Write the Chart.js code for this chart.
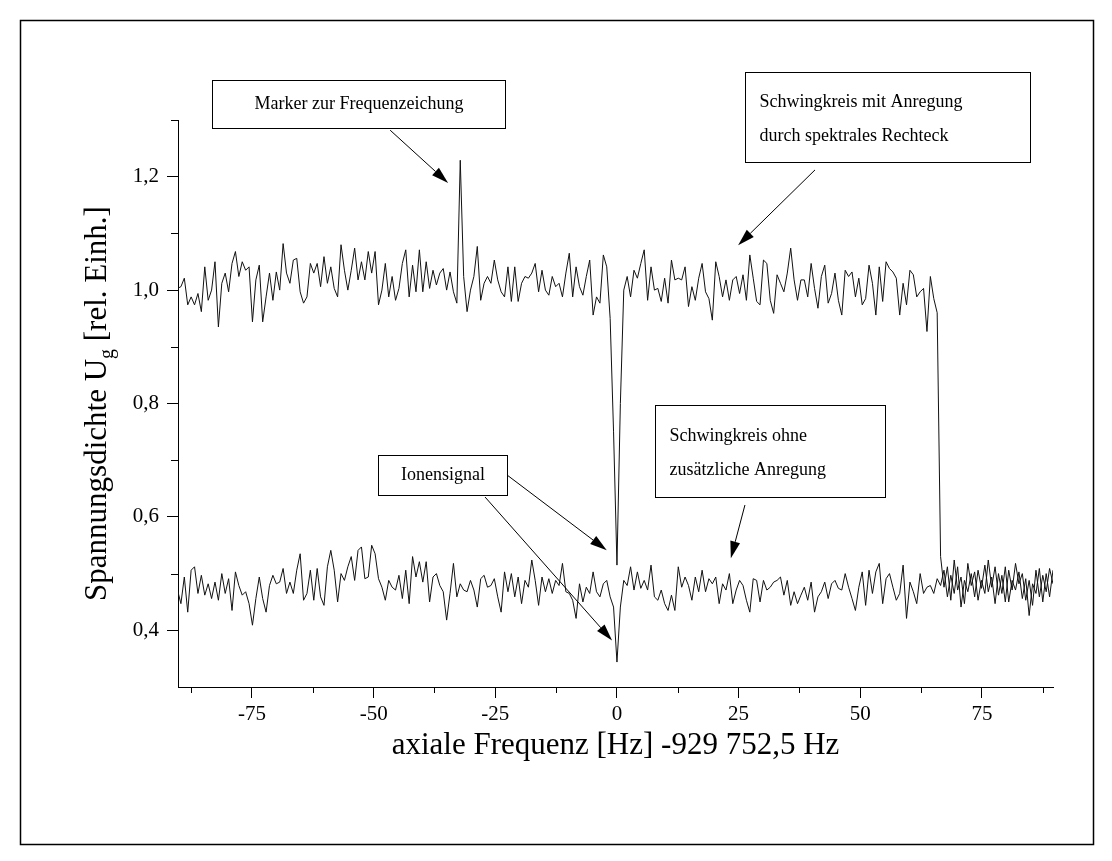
<!DOCTYPE html>
<html>
<head>
<meta charset="utf-8">
<script src="https://cdn.jsdelivr.net/npm/chart.js@4.4.1/dist/chart.umd.min.js"></script>
<style>
  body { margin: 0; background: #fff; }
  canvas { display: block; }
</style>
</head>
<body>
<canvas id="chart" width="1112" height="861"></canvas>
<script>
// ==================================================
// DATA
// ==================================================
// frequency grid of the recorded spectrum [Hz]
const freqStart = -90.3;
const freqStep = 0.7;

// circuit driven by spectral rectangle (top trace)
const mitAnregung = [
  1.003, 1.006, 1.021, 0.974, 0.988, 0.974, 0.994, 0.962, 1.041, 0.982,
  1.000, 1.050, 0.935, 1.012, 1.030, 0.997, 1.047, 1.068, 1.024, 1.050,
  1.035, 1.041, 0.944, 1.018, 1.044, 0.944, 0.988, 1.030, 0.982, 1.032,
  1.000, 1.082, 1.030, 1.012, 1.053, 1.056, 0.997, 0.977, 0.988, 1.047,
  1.030, 1.047, 1.006, 1.059, 1.012, 1.041, 1.003, 0.988, 1.080, 1.035,
  1.000, 1.035, 1.074, 1.018, 1.050, 1.018, 1.068, 1.030, 1.068, 0.974,
  1.000, 1.047, 0.988, 1.024, 0.982, 1.003, 1.047, 1.071, 0.988, 1.044,
  0.997, 1.071, 0.997, 1.050, 1.003, 1.035, 1.009, 1.030, 1.038, 1.000,
  1.032, 0.997, 0.977, 1.229, 1.024, 0.962, 1.000, 1.024, 1.077, 0.982,
  1.012, 1.024, 1.012, 1.053, 1.018, 0.997, 0.988, 1.041, 0.980, 1.041,
  0.980, 1.012, 1.024, 1.021, 1.030, 1.047, 0.997, 1.035, 1.000, 0.991,
  1.024, 1.006, 1.012, 0.988, 1.030, 1.065, 0.988, 1.041, 1.006, 0.991,
  1.024, 1.053, 0.956, 0.988, 0.977, 1.062, 1.041, 0.950, 0.750, 0.515,
  0.800, 1.000, 1.024, 0.988, 1.035, 1.021, 1.047, 1.071, 0.982, 1.041,
  1.000, 1.003, 0.980, 1.021, 0.977, 1.053, 1.018, 1.021, 1.018, 1.041,
  0.971, 1.006, 0.982, 1.021, 1.047, 0.997, 0.985, 0.947, 1.050, 1.024,
  0.988, 1.018, 0.982, 1.018, 1.024, 0.994, 1.027, 0.982, 1.062, 1.021,
  0.980, 0.974, 1.053, 1.047, 0.982, 0.959, 1.027, 1.012, 0.997, 1.030,
  1.074, 1.018, 0.982, 1.018, 1.018, 0.988, 1.047, 1.003, 0.968, 1.024,
  1.044, 0.977, 0.994, 1.030, 0.982, 0.956, 1.035, 1.024, 1.032, 0.988,
  1.021, 0.974, 0.985, 1.044, 1.012, 0.956, 1.041, 0.980, 1.050, 1.038,
  1.032, 1.021, 0.956, 1.012, 0.974, 1.035, 1.027, 0.988, 0.997, 1.003,
  0.927, 1.024, 0.985, 0.960, 0.530, 0.476, 0.512, 0.453, 0.524, 0.471,
  0.494, 0.447, 0.518, 0.479, 0.503, 0.453, 0.488, 0.465, 0.524, 0.476,
  0.512, 0.462, 0.497, 0.450, 0.506, 0.471, 0.518, 0.482, 0.500, 0.453,
  0.488, 0.444, 0.506, 0.459, 0.497, 0.468, 0.509, 0.482
];

// circuit without extra drive (bottom trace)
const ohneAnregung = [
  0.471, 0.447, 0.494, 0.432, 0.506, 0.512, 0.465, 0.497, 0.462, 0.482,
  0.456, 0.485, 0.453, 0.500, 0.465, 0.491, 0.435, 0.503, 0.479, 0.462,
  0.468, 0.447, 0.409, 0.456, 0.494, 0.456, 0.432, 0.479, 0.497, 0.482,
  0.485, 0.509, 0.465, 0.485, 0.465, 0.506, 0.535, 0.453, 0.465, 0.506,
  0.453, 0.509, 0.459, 0.444, 0.512, 0.541, 0.506, 0.450, 0.500, 0.488,
  0.512, 0.530, 0.488, 0.541, 0.547, 0.491, 0.494, 0.550, 0.535, 0.491,
  0.476, 0.453, 0.488, 0.476, 0.471, 0.497, 0.456, 0.506, 0.447, 0.530,
  0.494, 0.521, 0.485, 0.521, 0.450, 0.494, 0.500, 0.479, 0.468, 0.418,
  0.465, 0.518, 0.459, 0.482, 0.471, 0.468, 0.488, 0.471, 0.441, 0.491,
  0.497, 0.476, 0.479, 0.491, 0.459, 0.432, 0.503, 0.468, 0.500, 0.459,
  0.494, 0.447, 0.488, 0.476, 0.524, 0.488, 0.444, 0.494, 0.468, 0.491,
  0.465, 0.488, 0.479, 0.518, 0.468, 0.465, 0.453, 0.421, 0.482, 0.450,
  0.476, 0.465, 0.503, 0.468, 0.459, 0.482, 0.488, 0.459, 0.441, 0.344,
  0.441, 0.488, 0.479, 0.512, 0.471, 0.503, 0.474, 0.488, 0.471, 0.515,
  0.459, 0.453, 0.471, 0.447, 0.435, 0.462, 0.435, 0.512, 0.476, 0.494,
  0.479, 0.453, 0.494, 0.468, 0.506, 0.468, 0.491, 0.482, 0.494, 0.447,
  0.482, 0.471, 0.500, 0.447, 0.471, 0.488, 0.479, 0.453, 0.432, 0.491,
  0.488, 0.450, 0.488, 0.471, 0.476, 0.485, 0.488, 0.494, 0.462, 0.488,
  0.444, 0.468, 0.447, 0.462, 0.476, 0.453, 0.485, 0.432, 0.459, 0.468,
  0.485, 0.456, 0.482, 0.488, 0.474, 0.471, 0.500, 0.476, 0.456, 0.435,
  0.476, 0.503, 0.444, 0.506, 0.465, 0.503, 0.518, 0.447, 0.491, 0.500,
  0.476, 0.453, 0.465, 0.515, 0.421, 0.485, 0.468, 0.447, 0.500, 0.465,
  0.476, 0.479, 0.465, 0.491, 0.479, 0.506, 0.459, 0.497, 0.465, 0.512,
  0.441, 0.488, 0.468, 0.500, 0.459, 0.506, 0.474, 0.515, 0.468, 0.494,
  0.447, 0.500, 0.465, 0.512, 0.450, 0.488, 0.471, 0.503, 0.456, 0.491,
  0.426, 0.482, 0.465, 0.509, 0.450, 0.500, 0.459, 0.506
];

// axis ticks
const xMajorTicks = [-75, -50, -25, 0, 25, 50, 75];
const xMinorTicks = [-87.5, -62.5, -37.5, -12.5, 12.5, 37.5, 62.5, 87.5];
const yMajorTicks = [0.4, 0.6, 0.8, 1.0, 1.2];
const yMinorTicks = [0.5, 0.7, 0.9, 1.1, 1.3];

// annotations (data coordinates)
const labelBoxes = [
  { x1: -83.2, y1: 1.371, x2: -23.0, y2: 1.286, lines: ["Marker zur Frequenzeichung"], align: "center" },
  { x1: 26.3, y1: 1.385, x2: 84.9, y2: 1.226, lines: ["Schwingkreis mit Anregung", "durch spektrales Rechteck"], align: "left" },
  { x1: -49.1, y1: 0.709, x2: -22.6, y2: 0.638, lines: ["Ionensignal"], align: "center" },
  { x1: 7.8, y1: 0.797, x2: 55.1, y2: 0.635, lines: ["Schwingkreis ohne", "zusätzliche Anregung"], align: "left" },
];
const arrows = [
  { from: [-46.6, 1.282], to: [-34.7, 1.189] },
  { from: [40.7, 1.212], to: [24.9, 1.079] },
  { from: [-22.6, 0.674], to: [-2.1, 0.541] },
  { from: [-27.1, 0.635], to: [-1.0, 0.382] },
  { from: [26.3, 0.621], to: [23.4, 0.527] },
];

const xTitle = "axiale Frequenz [Hz] -929 752,5 Hz";
const SERIF = "'Liberation Serif', 'DejaVu Serif', serif";

// ==================================================
// HELPERS
// ==================================================
const toPoints = (values) =>
  values.map((v, i) => ({ x: +(freqStart + i * freqStep).toFixed(2), y: v }));

const drawArrow = (ctx, x0, y0, x1, y1) => {
  const ang = Math.atan2(y1 - y0, x1 - x0);
  const len = 17;
  const half = 5;
  const bx = x1 - len * Math.cos(ang);
  const by = y1 - len * Math.sin(ang);
  ctx.beginPath();
  ctx.moveTo(x0, y0);
  ctx.lineTo(bx, by);
  ctx.stroke();
  ctx.beginPath();
  ctx.moveTo(x1, y1);
  ctx.lineTo(bx + half * Math.sin(ang), by - half * Math.cos(ang));
  ctx.lineTo(bx - half * Math.sin(ang), by + half * Math.cos(ang));
  ctx.closePath();
  ctx.fill();
};

// ==================================================
// PLUGIN: frame, minor ticks, titles, annotations
// ==================================================
const decorPlugin = {
  id: "decor",
  beforeDraw(chart) {
    const ctx = chart.ctx;
    ctx.save();
    ctx.fillStyle = "#fff";
    ctx.fillRect(0, 0, chart.width, chart.height);
    ctx.strokeStyle = "#000";
    ctx.lineWidth = 1.5;
    ctx.strokeRect(20.5, 20.5, 1073, 824);
    ctx.restore();
  },
  afterDraw(chart) {
    const { ctx, chartArea, scales } = chart;
    const x = scales.x;
    const y = scales.y;
    ctx.save();
    ctx.strokeStyle = "#000";
    ctx.fillStyle = "#000";
    ctx.lineWidth = 1;

    // minor ticks
    xMinorTicks.forEach((v) => {
      const px = Math.round(x.getPixelForValue(v)) + 0.5;
      ctx.beginPath();
      ctx.moveTo(px, chartArea.bottom);
      ctx.lineTo(px, chartArea.bottom + 6);
      ctx.stroke();
    });
    yMinorTicks.forEach((v) => {
      const py = Math.round(y.getPixelForValue(v)) + 0.5;
      ctx.beginPath();
      ctx.moveTo(chartArea.left, py);
      ctx.lineTo(chartArea.left - 7, py);
      ctx.stroke();
    });

    // x axis title
    ctx.font = `31px ${SERIF}`;
    ctx.textAlign = "center";
    ctx.textBaseline = "middle";
    ctx.fillText(xTitle, (chartArea.left + chartArea.right) / 2, chartArea.bottom + 59);

    // y axis title with subscript
    const partA = "Spannungsdichte U";
    const partB = "g";
    const partC = " [rel. Einh.]";
    ctx.font = `31px ${SERIF}`;
    const wA = ctx.measureText(partA).width;
    const wC = ctx.measureText(partC).width;
    ctx.font = `20px ${SERIF}`;
    const wB = ctx.measureText(partB).width;
    const total = wA + wB + wC;
    ctx.translate(96, (chartArea.top + chartArea.bottom) / 2);
    ctx.rotate(-Math.PI / 2);
    ctx.textAlign = "left";
    ctx.textBaseline = "alphabetic";
    let cx = -total / 2;
    ctx.font = `31px ${SERIF}`;
    ctx.fillText(partA, cx, 10);
    cx += wA;
    ctx.font = `20px ${SERIF}`;
    ctx.fillText(partB, cx, 17);
    cx += wB;
    ctx.font = `31px ${SERIF}`;
    ctx.fillText(partC, cx, 10);
    ctx.setTransform(1, 0, 0, 1, 0, 0);

    // label boxes
    ctx.font = `18px ${SERIF}`;
    ctx.textBaseline = "middle";
    const lineGap = 34;
    labelBoxes.forEach((b) => {
      const l = Math.round(x.getPixelForValue(b.x1)) + 0.5;
      const r = Math.round(x.getPixelForValue(b.x2)) + 0.5;
      const t = Math.round(y.getPixelForValue(b.y1)) + 0.5;
      const btm = Math.round(y.getPixelForValue(b.y2)) + 0.5;
      ctx.strokeRect(l, t, r - l, btm - t);
      const mid = (t + btm) / 2 + (b.lines.length > 1 ? 2 : 0);
      b.lines.forEach((line, k) => {
        const ty = mid + (k - (b.lines.length - 1) / 2) * lineGap;
        if (b.align === "center") {
          ctx.textAlign = "center";
          ctx.fillText(line, (l + r) / 2, ty);
        } else {
          ctx.textAlign = "left";
          ctx.fillText(line, l + 14, ty);
        }
      });
    });

    // arrows
    arrows.forEach((a) => {
      drawArrow(
        ctx,
        x.getPixelForValue(a.from[0]), y.getPixelForValue(a.from[1]),
        x.getPixelForValue(a.to[0]), y.getPixelForValue(a.to[1])
      );
    });
    ctx.restore();
  },
};

// ==================================================
// CHART
// ==================================================
const ctx = document.getElementById("chart").getContext("2d");

new Chart(ctx, {
  type: "line",
  data: {
    datasets: [
      {
        label: "Schwingkreis mit Anregung",
        data: toPoints(mitAnregung),
        borderColor: "#111",
        borderWidth: 1,
        pointRadius: 0,
        tension: 0,
        fill: false,
      },
      {
        label: "Schwingkreis ohne Anregung",
        data: toPoints(ohneAnregung),
        borderColor: "#111",
        borderWidth: 1,
        pointRadius: 0,
        tension: 0,
        fill: false,
      },
    ],
  },
  options: {
    responsive: false,
    animation: false,
    devicePixelRatio: 1,
    layout: { padding: { left: 0, top: 120, right: 59, bottom: 84 } },
    plugins: {
      legend: { display: false },
      tooltip: { enabled: false },
    },
    scales: {
      x: {
        type: "linear",
        min: -90.2,
        max: 89.6,
        afterBuildTicks: (scale) => {
          scale.ticks = xMajorTicks.map((v) => ({ value: v }));
        },
        afterFit: (scale) => {
          scale.height = 90;
        },
        border: { display: true, color: "#000", width: 1 },
        grid: { drawOnChartArea: false, drawTicks: true, tickLength: 11, tickColor: "#000" },
        ticks: {
          color: "#000",
          padding: 4,
          maxRotation: 0,
          autoSkip: false,
          font: { family: SERIF, size: 21 },
          callback: (v) => String(v),
        },
      },
      y: {
        type: "linear",
        min: 0.3,
        max: 1.3,
        afterBuildTicks: (scale) => {
          scale.ticks = yMajorTicks.map((v) => ({ value: v }));
        },
        afterFit: (scale) => {
          scale.width = 178;
        },
        border: { display: true, color: "#000", width: 1 },
        grid: { drawOnChartArea: false, drawTicks: true, tickLength: 11, tickColor: "#000" },
        ticks: {
          color: "#000",
          padding: 8,
          autoSkip: false,
          font: { family: SERIF, size: 21 },
          callback: (v) => v.toFixed(1).replace(".", ","),
        },
      },
    },
  },
  plugins: [decorPlugin],
});
</script>
</body>
</html>
